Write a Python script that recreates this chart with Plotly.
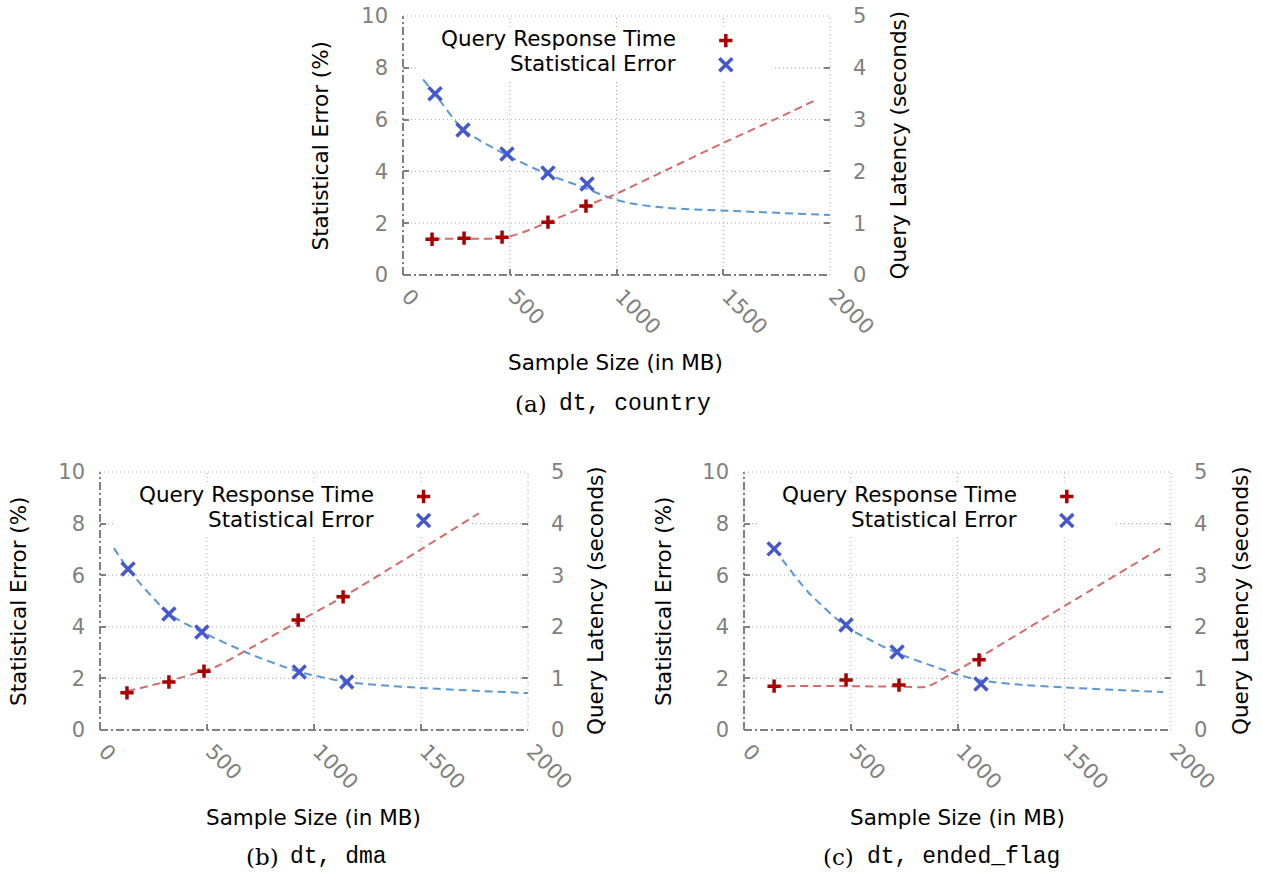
import plotly.graph_objects as go

W, H = 1262, 875

# ---------------- data ----------------
# (a) dt, country
A_qrt_x = [136, 286, 464, 679, 857]
A_qrt_y = [0.69, 0.71, 0.73, 1.02, 1.33]
A_err_x = [150, 281, 487, 679, 862]
A_err_y = [7.0, 5.6, 4.67, 3.94, 3.51]
A_qrt_fit_x = [136, 300, 464, 560, 679, 857, 1000, 1250, 1500, 1750, 1944]
A_qrt_fit_y = [0.70, 0.70, 0.71, 0.82, 1.02, 1.33, 1.57, 2.06, 2.55, 3.02, 3.40]
A_err_fit_x = [94, 150, 281, 487, 679, 862, 923, 1000, 1077, 1236, 1546, 2000]
A_err_fit_y = [7.55, 6.98, 5.62, 4.62, 3.88, 3.33, 3.12, 2.90, 2.75, 2.59, 2.47, 2.32]

# (b) dt, dma
B_qrt_x = [126, 322, 486, 926, 1136]
B_qrt_y = [0.72, 0.93, 1.14, 2.13, 2.58]
B_err_x = [131, 322, 476, 931, 1153]
B_err_y = [6.24, 4.5, 3.8, 2.25, 1.86]
B_qrt_fit_x = [126, 322, 486, 550, 700, 926, 1136, 1500, 1770]
B_qrt_fit_y = [0.75, 0.95, 1.15, 1.24, 1.58, 2.10, 2.58, 3.50, 4.20]
B_err_fit_x = [65, 131, 322, 476, 700, 931, 1153, 1500, 2000]
B_err_fit_y = [7.05, 6.24, 4.5, 3.8, 2.95, 2.25, 1.86, 1.63, 1.43]

# (c) dt, ended_flag
C_qrt_x = [141, 478, 726, 1101]
C_qrt_y = [0.85, 0.97, 0.87, 1.36]
C_err_x = [141, 478, 717, 1110]
C_err_y = [7.02, 4.07, 3.02, 1.78]
C_qrt_fit_x = [141, 478, 726, 857, 1059, 1500, 1963]
C_qrt_fit_y = [0.85, 0.85, 0.84, 0.84, 1.30, 2.40, 3.55]
C_err_fit_x = [141, 300, 478, 600, 717, 918, 1000, 1110, 1300, 1500, 1963]
C_err_fit_y = [7.02, 5.35, 4.0, 3.45, 2.98, 2.38, 2.15, 1.92, 1.75, 1.65, 1.47]

x_ticks = [0, 500, 1000, 1500, 2000]
left_ticks = [0, 2, 4, 6, 8, 10]
right_ticks = [0, 1, 2, 3, 4, 5]

legend_labels = ["Query Response Time", "Statistical Error"]
x_title = "Sample Size (in MB)"
left_title = "Statistical Error (%)"
right_title = "Query Latency (seconds)"
captions = [("(a)", "dt, country"), ("(b)", "dt, dma"), ("(c)", "dt, ended_flag")]

# ---------------- styling ----------------
RED_M = "#a80000"
BLUE_M = "#4658cf"
RED_L = "#d46a6a"
BLUE_L = "#5a98d4"
GREY = "#808080"
GRID = "#a8a8a8"
FONT = "DejaVu Sans"
TXT = 21.5
TICK = 21

panels = [
    dict(px=(403, 830), py=(16, 275), data=(A_qrt_x, A_qrt_y, A_err_x, A_err_y,
                                             A_qrt_fit_x, A_qrt_fit_y, A_err_fit_x, A_err_fit_y),
         ltitle_x=320, rtitle_x=898, xtitle=(615, 362), cap=(611, 404)),
    dict(px=(100, 528), py=(472, 730), data=(B_qrt_x, B_qrt_y, B_err_x, B_err_y,
                                             B_qrt_fit_x, B_qrt_fit_y, B_err_fit_x, B_err_fit_y),
         ltitle_x=18, rtitle_x=595, xtitle=(313, 817), cap=(314, 857)),
    dict(px=(744, 1171), py=(472, 730), data=(C_qrt_x, C_qrt_y, C_err_x, C_err_y,
                                              C_qrt_fit_x, C_qrt_fit_y, C_err_fit_x, C_err_fit_y),
         ltitle_x=663, rtitle_x=1240, xtitle=(957, 817), cap=(940, 857)),
]

fig = go.Figure()
layout = dict(
    width=W, height=H, margin=dict(l=0, r=0, t=0, b=0, autoexpand=False),
    paper_bgcolor="white", plot_bgcolor="rgba(0,0,0,0)",
    showlegend=False, font=dict(family=FONT, color="black"),
)
shapes, annotations = [], []


def px2paper_x(v):
    return v / W


def px2paper_y(v):
    return 1 - v / H


for i, p in enumerate(panels):
    xk = "xaxis" if i == 0 else f"xaxis{i+1}"
    xr = "x" if i == 0 else f"x{i+1}"
    ylk = "yaxis" if i == 0 else f"yaxis{2*i+1}"
    ylr = "y" if i == 0 else f"y{2*i+1}"
    yrk = f"yaxis{2*i+2}"
    yrr = f"y{2*i+2}"
    xd = [px2paper_x(p["px"][0]), px2paper_x(p["px"][1])]
    yd = [px2paper_y(p["py"][1]), px2paper_y(p["py"][0])]

    layout[xk] = dict(domain=xd, range=[0, 2000], anchor=ylr, tickvals=x_ticks,
                      ticks="inside", ticklen=6, tickcolor=GREY, tickwidth=1.5,
                      tickangle=45, tickfont=dict(size=TICK, color=GREY, family=FONT),
                      showgrid=False, showline=False, zeroline=False, fixedrange=True,
                      ticklabelstandoff=4, ticklabelshift=5, automargin=False)
    layout[ylk] = dict(domain=yd, range=[0, 10], anchor=xr, tickvals=left_ticks,
                       ticks="inside", ticklen=6, tickcolor=GREY, tickwidth=1.5,
                       tickfont=dict(size=TICK, color=GREY, family=FONT),
                       showgrid=False, showline=False, zeroline=False, fixedrange=True,
                       ticklabelstandoff=14, automargin=False)
    layout[yrk] = dict(range=[0, 5], anchor=xr, overlaying=ylr, side="right",
                       tickvals=right_ticks, ticks="inside", ticklen=6, tickcolor=GREY,
                       tickwidth=1.5, tickfont=dict(size=TICK, color=GREY, family=FONT),
                       showgrid=False, showline=False, zeroline=False, fixedrange=True,
                       ticklabelstandoff=22, automargin=False)

    xdom, ydom = f"{xr} domain", f"{ylr} domain"
    # dotted grid lines (as shapes so the legend box can hide them)
    for t in x_ticks[1:-1]:
        shapes.append(dict(type="line", xref=xr, yref=ydom, x0=t, x1=t, y0=0, y1=1,
                           line=dict(color=GRID, width=1, dash="1px,3px"), layer="below"))
    for t in left_ticks[1:-1]:
        shapes.append(dict(type="line", xref=xdom, yref=ylr, x0=0, x1=1, y0=t, y1=t,
                           line=dict(color=GRID, width=1, dash="1px,3px"), layer="below"))
    # legend background box (hides grid)
    shapes.append(dict(type="rect", xref=xdom, yref=ydom, x0=0.035, x1=0.864,
                       y0=0.755, y1=0.955, fillcolor="white", line=dict(width=0),
                       layer="below"))
    # frame
    shapes.append(dict(type="line", xref=xdom, yref=ydom, x0=0, x1=1, y0=0, y1=0,
                       line=dict(color=GREY, width=2, dash="8px,3px,2px,3px"), layer="above"))
    shapes.append(dict(type="line", xref=xdom, yref=ydom, x0=0, x1=0, y0=0, y1=1,
                       line=dict(color=GREY, width=2, dash="8px,3px,2px,3px"), layer="above"))
    shapes.append(dict(type="line", xref=xdom, yref=ydom, x0=0, x1=1, y0=1, y1=1,
                       line=dict(color=GRID, width=1, dash="1px,3px"), layer="above"))
    shapes.append(dict(type="line", xref=xdom, yref=ydom, x0=1, x1=1, y0=0, y1=1,
                       line=dict(color=GRID, width=1, dash="1px,3px"), layer="above"))

    qx, qy, ex, ey, qfx, qfy, efx, efy = p["data"]
    # fitted curves and measurements
    fig.add_trace(go.Scatter(x=efx, y=efy, xaxis=xr, yaxis=ylr, mode="lines",
                             line=dict(color=BLUE_L, width=2, dash="8px,5px",
                                       shape="spline", smoothing=0.6), hoverinfo="skip"))
    fig.add_trace(go.Scatter(x=ex, y=ey, xaxis=xr, yaxis=ylr, mode="markers",
                             marker=dict(symbol="x-thin", size=13, color=BLUE_M,
                                         line=dict(width=3.5, color=BLUE_M)),
                             name=legend_labels[1]))
    fig.add_trace(go.Scatter(x=qfx, y=qfy, xaxis=xr, yaxis=yrr, mode="lines",
                             line=dict(color=RED_L, width=2, dash="8px,5px",
                                       shape="spline", smoothing=0.5), hoverinfo="skip"))
    fig.add_trace(go.Scatter(x=qx, y=qy, xaxis=xr, yaxis=yrr, mode="markers",
                             marker=dict(symbol="cross-thin", size=9.5, color=RED_M,
                                         line=dict(width=3.5, color=RED_M)),
                             name=legend_labels[0]))

    # legend text
    pw = p["px"][1] - p["px"][0]
    ph = p["py"][1] - p["py"][0]
    for lab, yy in zip(legend_labels, [0.912, 0.815]):
        annotations.append(dict(xref=xdom, yref=ydom, x=0.644, y=yy, text=lab,
                                showarrow=False, xanchor="right", yanchor="middle",
                                font=dict(size=TXT, color="black", family=FONT)))
    # legend markers on a paper-space overlay axis
    lx = px2paper_x(p["px"][0] + 0.756 * pw)
    ly1 = px2paper_y(p["py"][1] - 0.905 * ph)
    ly2 = px2paper_y(p["py"][1] - 0.812 * ph)
    fig.add_trace(go.Scatter(x=[lx], y=[ly1], xaxis="x4", yaxis="y7", mode="markers",
                             marker=dict(symbol="cross-thin", size=9.5, color=RED_M,
                                         line=dict(width=3.5, color=RED_M)),
                             hoverinfo="skip"))
    fig.add_trace(go.Scatter(x=[lx], y=[ly2], xaxis="x4", yaxis="y7", mode="markers",
                             marker=dict(symbol="x-thin", size=13, color=BLUE_M,
                                         line=dict(width=3.5, color=BLUE_M)),
                             hoverinfo="skip"))

    # axis titles
    cy = px2paper_y((p["py"][0] + p["py"][1]) / 2)
    annotations.append(dict(xref="paper", yref="paper", x=px2paper_x(p["ltitle_x"]), y=cy,
                            text=left_title, textangle=-90, showarrow=False,
                            xanchor="center", yanchor="middle",
                            font=dict(size=TXT, color="black", family=FONT)))
    annotations.append(dict(xref="paper", yref="paper", x=px2paper_x(p["rtitle_x"]), y=cy,
                            text=right_title, textangle=-90, showarrow=False,
                            xanchor="center", yanchor="middle",
                            font=dict(size=TXT, color="black", family=FONT)))
    annotations.append(dict(xref="paper", yref="paper", x=px2paper_x(p["xtitle"][0]),
                            y=px2paper_y(p["xtitle"][1]), text=x_title, showarrow=False,
                            xanchor="center", yanchor="middle",
                            font=dict(size=TXT, color="black", family=FONT)))
    # caption
    lab, code = captions[i]
    cx = p["cap"][0]
    tot_w = 38 + 6 + len(code) * 13.8
    start = cx - tot_w / 2
    annotations.append(dict(xref="paper", yref="paper", x=px2paper_x(start),
                            y=px2paper_y(p["cap"][1]), text=lab, showarrow=False,
                            xanchor="left", yanchor="middle",
                            font=dict(size=23, color="black", family="DejaVu Serif")))
    annotations.append(dict(xref="paper", yref="paper", x=px2paper_x(start + 44),
                            y=px2paper_y(p["cap"][1]), text=code, showarrow=False,
                            xanchor="left", yanchor="middle",
                            font=dict(size=23, color="black", family="Liberation Mono")))

layout["xaxis4"] = dict(domain=[0, 1], range=[0, 1], anchor="y7", visible=False, fixedrange=True)
layout["yaxis7"] = dict(domain=[0, 1], range=[0, 1], anchor="x4", visible=False, fixedrange=True)
layout["shapes"] = shapes
layout["annotations"] = annotations
fig.update_layout(**layout)

fig.write_html("out.html")
